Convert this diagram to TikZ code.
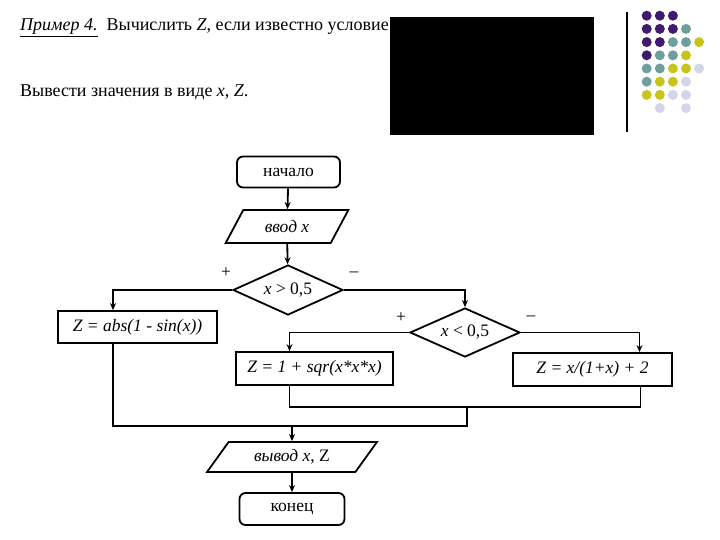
\documentclass[tikz,border=0pt]{standalone}
\usepackage{fontspec}
\setmainfont{Liberation Serif}
\usetikzlibrary{arrows.meta, positioning, calc, shapes.geometric}

\definecolor{dotP}{HTML}{3F1A6E}
\definecolor{dotT}{HTML}{6E9E9E}
\definecolor{dotY}{HTML}{C8C41E}
\definecolor{dotL}{HTML}{D4D4EA}

\begin{document}
\begin{tikzpicture}[
  x=1pt, y=-1pt,
  font=\fontsize{17.5}{20}\selectfont,
  termbox/.style={draw, rounded corners=6pt, line width=1.8pt, minimum width=103pt, minimum height=31pt, inner sep=0pt},
  iobox/.style={draw, trapezium, trapezium stretches=true, line width=1.8pt, inner sep=0pt},
  cond/.style={draw, diamond, aspect=2.2, inner sep=0pt, minimum width=110pt, minimum height=50pt, line width=1.8pt},
  calcbox/.style={draw, rectangle, line width=1.8pt, minimum width=159pt, minimum height=33pt, inner sep=0pt},
  sign/.style={inner sep=0pt},
  head/.style={anchor=base west, inner sep=0pt, font=\fontsize{18}{21}\selectfont},
  line/.style={line width=1.8pt},
  arrow/.style={line, -{Stealth[length=7pt,width=6pt]}}
]
  \useasboundingbox (0,0) rectangle (720,540);

  % header
  \node[head] (title) at (20,31) {{\itshape\underline{Пример 4.}}\enspace Вычислить {\itshape Z}, если известно условие};
  \node[head] (task) at (20,97) {Вывести значения в виде {\itshape x}, {\itshape Z}.};
  \fill[black] (390,17) rectangle (594,135);
  \draw[line width=1.5pt] (627,12) -- (627,132);

  % dots
  \foreach \row/\cols in {0/{P,P,P}, 1/{P,P,P,T}, 2/{P,P,T,T,Y}, 3/{P,T,T,Y},
                          4/{T,T,Y,Y,L}, 5/{T,Y,Y,L}, 6/{Y,Y,L,L}}
    \foreach \c [count=\col from 0] in \cols
      \fill[dot\c] (646.7+13.1*\col, 15.7+13.2*\row) circle (5pt);
  \fill[dotL] (659.8,108.1) circle (5pt);
  \fill[dotL] (686.0,108.1) circle (5pt);

  % flowchart
  \node[termbox] (start) at (288.5,172) {начало};
  \node[iobox, trapezium left angle=54, trapezium right angle=126,
        minimum width=123pt, minimum height=33pt] (input) at (287,226.5) {\itshape ввод x};
  \node[cond] (cond1) at (288,290) {{\itshape x} > 0,5};
  \node[cond, minimum height=49pt] (cond2) at (465,332.5) {{\itshape x} < 0,5};
  \node[calcbox, minimum height=32pt] (box1) at (137.5,327) {\itshape Z = abs(1 - sin(x))};
  \node[calcbox, minimum width=157pt] (box2) at (314.5,368.5) {\itshape Z = 1 + sqr(x*x*x)};
  \node[calcbox] (box3) at (592.5,369.5) {\itshape Z = x/(1+x) + 2};
  \node[iobox, trapezium left angle=49, trapezium right angle=131,
        minimum width=170pt, minimum height=30pt] (output) at (292,457) {{\itshape вывод x}, Z};
  \node[termbox, minimum width=105pt, minimum height=32pt] (end) at (292,509) {конец};

  \node[sign] (plus1)  at (226,273) {+};
  \node[sign] (minus1) at (354,274) {--};
  \node[sign] (plus2)  at (401,318) {+};
  \node[sign] (minus2) at (531,318) {--};

  \draw[arrow] (start) -- (input);
  \draw[arrow] (input) -- (cond1);
  \draw[arrow] (cond1.west) -| ([xshift=-24.5pt]box1.north);
  \draw[arrow] (cond1.east) -| (cond2.north);
  \draw[arrow] (cond2.west) -| ([xshift=-25pt]box2.north);
  \draw[arrow] (cond2.east) -| ([xshift=47pt]box3.north);

  % merging lines
  \coordinate (join1) at (467,407);
  \coordinate (join2) at (292,426);
  \draw[line] ([xshift=-25pt]box2.south) |- (join1) -| ([xshift=48pt]box3.south);
  \draw[line] ([xshift=-24.5pt]box1.south) |- (join2) -| (join1);
  \draw[arrow] (join2) -- (output);
  \draw[arrow] (output) -- (end);
\end{tikzpicture}
\end{document}
